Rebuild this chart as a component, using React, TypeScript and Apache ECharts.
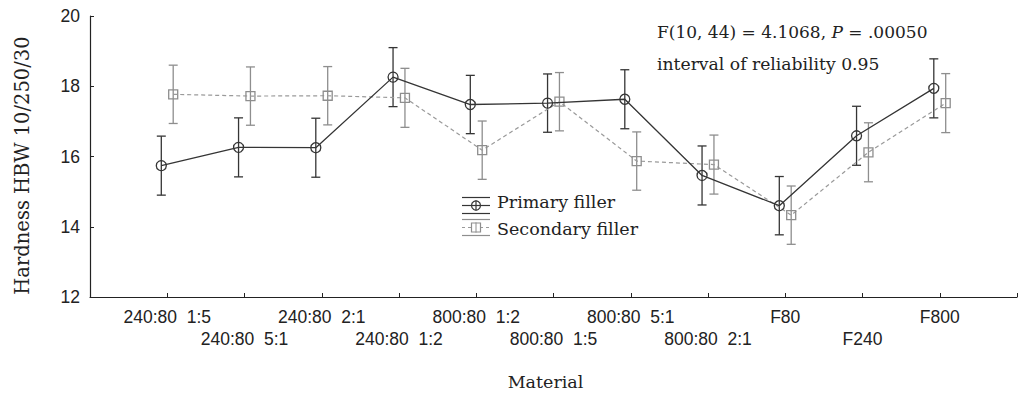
import React, { useEffect, useRef } from "react";
import * as echarts from "echarts";

const categories = [
  "240:80  1:5",
  "240:80  5:1",
  "240:80  2:1",
  "240:80  1:2",
  "800:80  1:2",
  "800:80  1:5",
  "800:80  5:1",
  "800:80  2:1",
  "F80",
  "F240",
  "F800",
];
const primaryMeans = [15.74, 16.26, 16.25, 18.26, 17.48, 17.52, 17.63, 15.46, 14.6, 16.59, 17.94];
const primaryErr = [0.84, 0.84, 0.84, 0.84, 0.83, 0.83, 0.84, 0.84, 0.83, 0.84, 0.84];
const secondaryMeans = [17.77, 17.72, 17.73, 17.67, 16.18, 17.56, 15.87, 15.77, 14.33, 16.12, 17.52];
const secondaryErr = [0.83, 0.83, 0.83, 0.84, 0.83, 0.83, 0.83, 0.84, 0.83, 0.84, 0.84];
const yMin = 12;
const yMax = 20;
const yStep = 2;

const SERIF = "'DejaVu Serif', 'Liberation Serif', serif";
const SANS = "'Liberation Sans', Arial, sans-serif";
const DARK = "#353535";
const LIGHT = "#8e8e8e";
const OFFSET = 0.077;

function errRender(color: string) {
  return (params: any, api: any) => {
    const x = api.value(0);
    const lo = api.value(1);
    const hi = api.value(2);
    const pLo = api.coord([x, lo]);
    const pHi = api.coord([x, hi]);
    const w = 4.5;
    const style = { stroke: color, lineWidth: 1.3 };
    return {
      type: "group",
      children: [
        { type: "line", shape: { x1: pHi[0], y1: pHi[1], x2: pLo[0], y2: pLo[1] }, style },
        { type: "line", shape: { x1: pHi[0] - w, y1: pHi[1], x2: pHi[0] + w, y2: pHi[1] }, style },
        { type: "line", shape: { x1: pLo[0] - w, y1: pLo[1], x2: pLo[0] + w, y2: pLo[1] }, style },
      ],
    };
  };
}

export default function App() {
  const ref = useRef<HTMLDivElement>(null);
  useEffect(() => {
    if (!ref.current) return;
    const chart = echarts.init(ref.current, undefined, { renderer: "svg" });
    const primaryPts = primaryMeans.map((v, i) => [i + 1 - OFFSET, v]);
    const secondaryPts = secondaryMeans.map((v, i) => [i + 1 + OFFSET, v]);
    const primaryBars = primaryMeans.map((v, i) => [i + 1 - OFFSET, v - primaryErr[i], v + primaryErr[i]]);
    const secondaryBars = secondaryMeans.map((v, i) => [i + 1 + OFFSET, v - secondaryErr[i], v + secondaryErr[i]]);

    const option: any = {
      animation: false,
      backgroundColor: "#ffffff",
      grid: { left: 90, right: -9, top: 16, bottom: 96, containLabel: false },
      xAxis: {
        type: "value",
        min: 0,
        max: categories.length + 1,
        interval: 1,
        name: "Material",
        nameLocation: "middle",
        nameGap: 76,
        nameTextStyle: { fontFamily: SERIF, fontSize: 17.5, color: "#222", padding: [0, 16, 0, 0] },
        axisLine: { lineStyle: { color: "#222", width: 1.2 } },
        axisTick: { inside: true, length: 4, lineStyle: { color: "#222" } },
        splitLine: { show: false },
        axisLabel: {
          margin: 9,
          fontFamily: SANS,
          fontSize: 17.5,
          color: "#222",
          lineHeight: 22,
          formatter: (v: number) => {
            const i = Math.round(v) - 1;
            if (Math.abs(v - Math.round(v)) > 1e-6 || i < 0 || i >= categories.length) return "";
            return i % 2 === 1 ? "\n" + categories[i] : categories[i];
          },
        },
      },
      yAxis: {
        type: "value",
        min: yMin,
        max: yMax,
        interval: yStep,
        name: "Hardness HBW 10/250/30",
        nameLocation: "middle",
        nameGap: 58,
        nameTextStyle: { fontFamily: SERIF, fontSize: 19.5, color: "#222", padding: [0, 18, 0, 0] },
        axisLine: { show: true, lineStyle: { color: "#222", width: 1.2 } },
        axisTick: { show: true, inside: true, length: 4, lineStyle: { color: "#222" } },
        splitLine: { show: false },
        axisLabel: { margin: 10, fontFamily: SANS, fontSize: 17.5, color: "#222" },
      },
      series: [
        {
          type: "custom",
          name: "Secondary filler error",
          renderItem: errRender(LIGHT),
          data: secondaryBars,
          encode: { x: 0, y: [1, 2] },
          z: 1,
        },
        {
          type: "custom",
          name: "Primary filler error",
          renderItem: errRender(DARK),
          data: primaryBars,
          encode: { x: 0, y: [1, 2] },
          z: 1,
        },
        {
          type: "line",
          name: "Secondary filler",
          data: secondaryPts,
          symbol: "rect",
          symbolSize: 9,
          lineStyle: { color: "#9a9a9a", width: 1.2, type: [4, 3] },
          itemStyle: { color: "rgba(255,255,255,0)", borderColor: LIGHT, borderWidth: 1.3 },
          z: 2,
        },
        {
          type: "line",
          name: "Primary filler",
          data: primaryPts,
          symbol: "circle",
          symbolSize: 10,
          lineStyle: { color: DARK, width: 1.3 },
          itemStyle: { color: "rgba(255,255,255,0)", borderColor: DARK, borderWidth: 1.3 },
          z: 3,
        },
      ],
      graphic: [
        // legend: primary
        { type: "line", shape: { x1: 462, y1: 197.5, x2: 490, y2: 197.5 }, style: { stroke: DARK, lineWidth: 1.2 } },
        { type: "line", shape: { x1: 462, y1: 205.5, x2: 490, y2: 205.5 }, style: { stroke: DARK, lineWidth: 1.2 } },
        { type: "line", shape: { x1: 462, y1: 213.5, x2: 490, y2: 213.5 }, style: { stroke: DARK, lineWidth: 1.2 } },
        { type: "line", shape: { x1: 476, y1: 200.5, x2: 476, y2: 210.5 }, style: { stroke: DARK, lineWidth: 1.2 } },
        { type: "circle", shape: { cx: 476, cy: 205.5, r: 4.5 }, style: { fill: "none", stroke: DARK, lineWidth: 1.2 } },
        // legend: secondary
        { type: "line", shape: { x1: 462, y1: 219.5, x2: 490, y2: 219.5 }, style: { stroke: LIGHT, lineWidth: 1.2 } },
        { type: "line", shape: { x1: 462, y1: 227.5, x2: 490, y2: 227.5 }, style: { stroke: "#9a9a9a", lineWidth: 1.2, lineDash: [3, 3] } },
        { type: "line", shape: { x1: 462, y1: 235.5, x2: 490, y2: 235.5 }, style: { stroke: LIGHT, lineWidth: 1.2 } },
        { type: "line", shape: { x1: 476, y1: 222.5, x2: 476, y2: 232.5 }, style: { stroke: LIGHT, lineWidth: 1.2 } },
        { type: "rect", shape: { x: 471.5, y: 223, width: 9, height: 9 }, style: { fill: "#fff", stroke: LIGHT, lineWidth: 1.2 } },
        { type: "line", shape: { x1: 476, y1: 223, x2: 476, y2: 232 }, style: { stroke: LIGHT, lineWidth: 1 } },
        {
          type: "text",
          x: 497,
          y: 202,
          style: { text: "Primary filler", fontFamily: SERIF, fontSize: 17.5, fill: "#222", align: "left", verticalAlign: "middle" },
        },
        {
          type: "text",
          x: 497,
          y: 228.5,
          style: { text: "Secondary filler", fontFamily: SERIF, fontSize: 17.5, fill: "#222", align: "left", verticalAlign: "middle" },
        },
        // annotation
        {
          type: "text",
          x: 657,
          y: 32,
          style: {
            text: "{n|F(10, 44) = 4.1068, }{i|P}{n| = .00050}",
            align: "left",
            verticalAlign: "middle",
            rich: {
              n: { fontFamily: SERIF, fontSize: 17, fill: "#222", color: "#222" },
              i: { fontFamily: SERIF, fontSize: 17, fontStyle: "italic", fill: "#222", color: "#222" },
            },
          },
        },
        {
          type: "text",
          x: 657,
          y: 63.5,
          style: { text: "interval of reliability 0.95", fontFamily: SERIF, fontSize: 17.2, fill: "#222", align: "left", verticalAlign: "middle" },
        },
      ],
    };
    chart.setOption(option);
    return () => chart.dispose();
  }, []);
  return (
    <div
      ref={ref}
      style={{ position: "absolute", left: 0, top: 0, width: 1020, height: 396, background: "#fff" }}
    />
  );
}
